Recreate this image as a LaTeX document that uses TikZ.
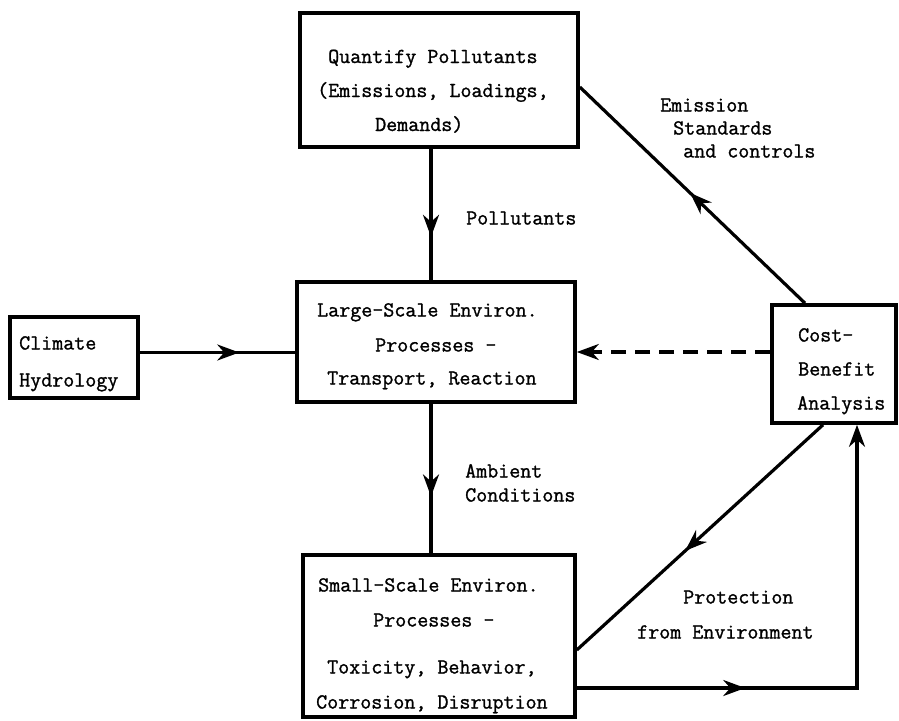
\documentclass[tikz,border=0pt]{standalone}
\usepackage{fontspec}
\newfontfamily\twfont[FakeBold=1.2]{Latin Modern Mono}
\usetikzlibrary{arrows.meta,decorations.markings}
\tikzset{
  box/.style={draw, line width=3.6pt, rectangle, inner sep=0pt},
  conn/.style={line width=3.2pt},
  txt/.style={font=\twfont\fontsize{21.4}{24}\selectfont, inner sep=0pt, anchor=base west},
  midarrow/.style={postaction={decorate,decoration={markings,
      mark=at position #1 with {\arrow{Stealth[length=22pt,width=16pt,inset=7pt]}}}}}
}
\begin{document}
\begin{tikzpicture}[x=1pt,y=-1pt]
\useasboundingbox (0,0) rectangle (899,720);
% boxes
\node[box, minimum width=278pt, minimum height=134pt] (quant) at (439,80) {};
\node[box, minimum width=278pt, minimum height=120pt] (large) at (436,342) {};
\node[box, minimum width=128pt, minimum height=81pt] (climate) at (74,357.5) {};
\node[box, minimum width=124pt, minimum height=118pt] (cba) at (834,364) {};
\node[box, minimum width=272pt, minimum height=162pt] (small) at (439,636) {};
% box texts
\node[txt] (q1) at (328,63) {Quantify Pollutants};
\node[txt] (q2) at (317,97) {(Emissions, Loadings,};
\node[txt] (q3) at (375,131) {Demands)};
\node[txt] (l1) at (317,316.5) {Large-Scale Environ.};
\node[txt] (l2) at (375,351.5) {Processes -};
\node[txt] (l3) at (327,384.5) {Transport, Reaction};
\node[txt] (c1) at (19,349.5) {Climate};
\node[txt] (c2) at (19,386.5) {Hydrology};
\node[txt] (b1) at (798,341.5) {Cost-};
\node[txt] (b2) at (798,375.5) {Benefit};
\node[txt] (b3) at (797,409.5) {Analysis};
\node[txt] (s1) at (318,591.5) {Small-Scale Environ.};
\node[txt] (s2) at (373,626.5) {Processes -};
\node[txt] (s3) at (327,673.5) {Toxicity, Behavior,};
\node[txt] (s4) at (316,708.5) {Corrosion, Disruption};
% labels
\node[txt] (pol) at (466,224.5) {Pollutants};
\node[txt] (amb1) at (465,477.5) {Ambient};
\node[txt] (amb2) at (465,501.5) {Conditions};
\node[txt] (em1) at (660,111.5) {Emission};
\node[txt] (em2) at (673,134.5) {Standards};
\node[txt] (em3) at (683,157.5) {and controls};
\node[txt] (pr1) at (683,603.5) {Protection};
\node[txt] (pr2) at (637,638.5) {from Environment};
% connectors
\draw[conn, midarrow=0.67] ([xshift=-8pt]quant.south) -- ([xshift=-8pt]quant.south |- large.north);
\draw[conn, midarrow=0.62] ([xshift=-5pt]large.south) -- ([xshift=-5pt]large.south |- small.north);
\draw[conn, midarrow=0.64] ([yshift=5pt]climate.east) -- ([yshift=5pt]climate.east -| large.west);
\draw[conn, dash pattern=on 15pt off 9pt, -{Stealth[length=22pt,width=16pt,inset=7pt]}] ([yshift=12pt]cba.west) -- ([yshift=12pt]cba.west -| large.east);
\draw[conn, midarrow=0.51] ([xshift=-29pt]cba.north) -- ([yshift=-7pt]quant.east);
\draw[conn, midarrow=0.56] ([xshift=-11pt]cba.south) -- ([yshift=-14pt]small.east);
\coordinate (corner) at (857,688);
\draw[conn, midarrow=0.31, -{Stealth[length=22pt,width=16pt,inset=7pt]}] (small.east |- corner) -- (corner) -- (corner |- cba.south);
\end{tikzpicture}
\end{document}
